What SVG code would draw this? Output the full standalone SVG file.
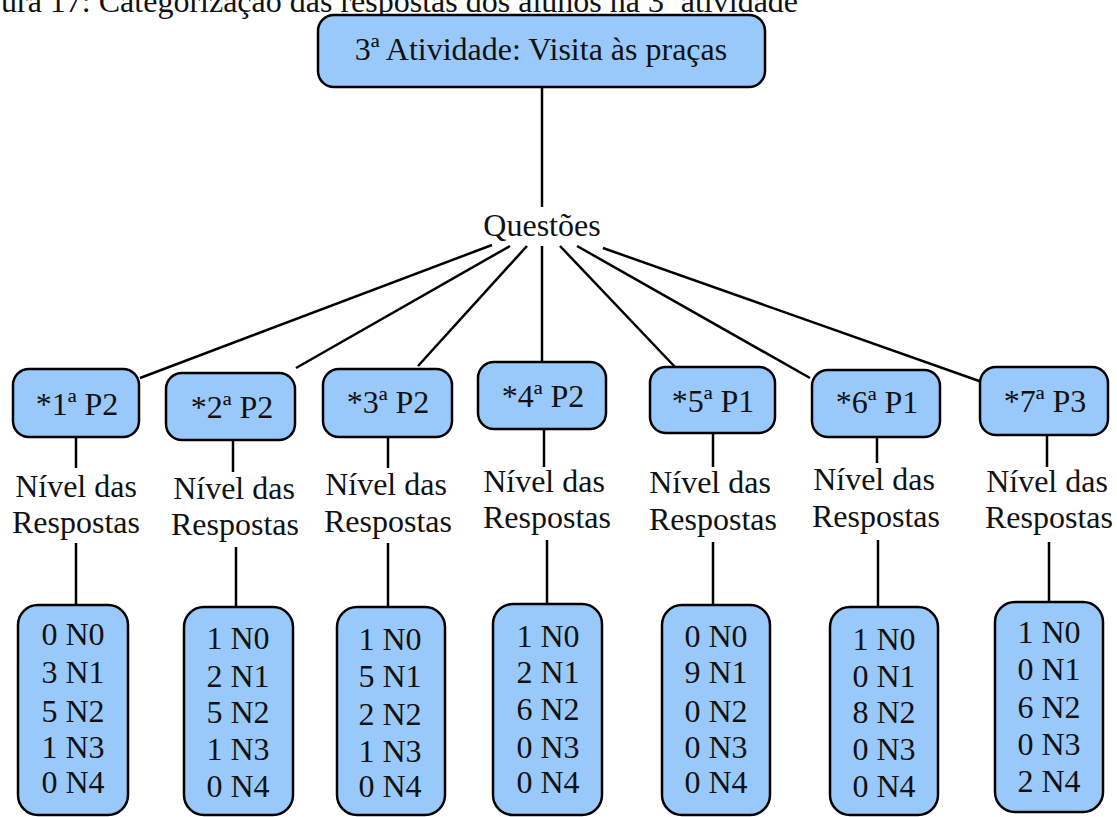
<svg xmlns="http://www.w3.org/2000/svg" width="1117" height="817" viewBox="0 0 1117 817">
  <style>
    .box { fill: #99c9fa; stroke: #000; stroke-width: 2.5; }
    .t { font-family: "Liberation Serif", "Times New Roman", serif; font-size: 32px; fill: #111; text-anchor: middle; }
    .cap { font-family: "Liberation Serif", "Times New Roman", serif; font-size: 32px; fill: #111; }
    .ln { stroke: #000; stroke-width: 2.5; fill: none; }
  </style>
  <rect width="1117" height="817" fill="#fff"/>

  <text class="cap" x="1" y="12">ura 17: Categorização das respostas dos alunos na 3ª atividade</text>

  <g id="connectors">
    <line class="ln" x1="542" y1="87" x2="542" y2="207"/>
    <line class="ln" x1="492" y1="245" x2="140" y2="378"/>
    <line class="ln" x1="510" y1="246" x2="296" y2="368"/>
    <line class="ln" x1="527" y1="246" x2="418" y2="366"/>
    <line class="ln" x1="542" y1="246" x2="542" y2="362"/>
    <line class="ln" x1="560" y1="246" x2="675" y2="367"/>
    <line class="ln" x1="577" y1="246" x2="810" y2="378"/>
    <line class="ln" x1="603" y1="248" x2="982" y2="382"/>
    <!-- question box to level label, label to counts box -->
    <line class="ln" x1="76" y1="437" x2="76" y2="468"/>
    <line class="ln" x1="76" y1="543" x2="76" y2="605"/>
    <line class="ln" x1="233" y1="440" x2="233" y2="472"/>
    <line class="ln" x1="236" y1="547" x2="236" y2="607"/>
    <line class="ln" x1="388" y1="437" x2="388" y2="468"/>
    <line class="ln" x1="388" y1="543" x2="388" y2="607"/>
    <line class="ln" x1="544" y1="429" x2="544" y2="467"/>
    <line class="ln" x1="547" y1="540" x2="547" y2="604"/>
    <line class="ln" x1="713" y1="433" x2="713" y2="467"/>
    <line class="ln" x1="713" y1="542" x2="713" y2="605"/>
    <line class="ln" x1="877" y1="437" x2="877" y2="463"/>
    <line class="ln" x1="878" y1="540" x2="878" y2="607"/>
    <line class="ln" x1="1047" y1="435" x2="1047" y2="467"/>
    <line class="ln" x1="1049" y1="542" x2="1049" y2="602"/>
  </g>

  <g id="activity">
    <rect class="box" x="318" y="15" width="447" height="72" rx="16"/>
    <text class="t" x="541" y="60">3ª Atividade: Visita às praças</text>
  </g>

  <g id="questoes">
    <text class="t" x="542" y="236">Questões</text>
  </g>

  <g id="q1">
    <rect class="box" x="13" y="369" width="126" height="68" rx="16"/>
    <text class="t" x="77" y="415">*1ª P2</text>
    <text class="t" x="76" y="497">Nível das</text>
    <text class="t" x="76" y="533">Respostas</text>
    <rect class="box" x="18" y="605" width="110" height="210" rx="20"/>
    <text class="t" x="73" y="645">0 N0</text>
    <text class="t" x="73" y="683">3 N1</text>
    <text class="t" x="73" y="722">5 N2</text>
    <text class="t" x="73" y="758">1 N3</text>
    <text class="t" x="73" y="793">0 N4</text>
  </g>

  <g id="q2">
    <rect class="box" x="166" y="373" width="129" height="67" rx="16"/>
    <text class="t" x="232" y="418">*2ª P2</text>
    <text class="t" x="234" y="499">Nível das</text>
    <text class="t" x="235" y="535">Respostas</text>
    <rect class="box" x="184" y="607" width="109" height="208" rx="20"/>
    <text class="t" x="238" y="649">1 N0</text>
    <text class="t" x="238" y="687">2 N1</text>
    <text class="t" x="238" y="723">5 N2</text>
    <text class="t" x="238" y="760">1 N3</text>
    <text class="t" x="238" y="797">0 N4</text>
  </g>

  <g id="q3">
    <rect class="box" x="323" y="369" width="129" height="68" rx="16"/>
    <text class="t" x="388" y="413">*3ª P2</text>
    <text class="t" x="386" y="495">Nível das</text>
    <text class="t" x="388" y="532">Respostas</text>
    <rect class="box" x="337" y="607" width="108" height="208" rx="20"/>
    <text class="t" x="390" y="650">1 N0</text>
    <text class="t" x="390" y="687">5 N1</text>
    <text class="t" x="390" y="725">2 N2</text>
    <text class="t" x="390" y="762">1 N3</text>
    <text class="t" x="390" y="797">0 N4</text>
  </g>

  <g id="q4">
    <rect class="box" x="478" y="362" width="128" height="67" rx="16"/>
    <text class="t" x="543" y="407">*4ª P2</text>
    <text class="t" x="544" y="492">Nível das</text>
    <text class="t" x="547" y="528">Respostas</text>
    <rect class="box" x="493" y="604" width="109" height="211" rx="20"/>
    <text class="t" x="548" y="647">1 N0</text>
    <text class="t" x="548" y="683">2 N1</text>
    <text class="t" x="548" y="720">6 N2</text>
    <text class="t" x="548" y="758">0 N3</text>
    <text class="t" x="548" y="793">0 N4</text>
  </g>

  <g id="q5">
    <rect class="box" x="650" y="367" width="125" height="66" rx="16"/>
    <text class="t" x="713" y="412">*5ª P1</text>
    <text class="t" x="710" y="493">Nível das</text>
    <text class="t" x="713" y="530">Respostas</text>
    <rect class="box" x="662" y="605" width="108" height="210" rx="20"/>
    <text class="t" x="716" y="647">0 N0</text>
    <text class="t" x="716" y="683">9 N1</text>
    <text class="t" x="716" y="722">0 N2</text>
    <text class="t" x="716" y="758">0 N3</text>
    <text class="t" x="716" y="793">0 N4</text>
  </g>

  <g id="q6">
    <rect class="box" x="812" y="370" width="128" height="67" rx="16"/>
    <text class="t" x="877" y="413">*6ª P1</text>
    <text class="t" x="874" y="490">Nível das</text>
    <text class="t" x="876" y="527">Respostas</text>
    <rect class="box" x="830" y="607" width="108" height="208" rx="20"/>
    <text class="t" x="884" y="650">1 N0</text>
    <text class="t" x="884" y="687">0 N1</text>
    <text class="t" x="884" y="723">8 N2</text>
    <text class="t" x="884" y="760">0 N3</text>
    <text class="t" x="884" y="797">0 N4</text>
  </g>

  <g id="q7">
    <rect class="box" x="980" y="367" width="128" height="68" rx="16"/>
    <text class="t" x="1045" y="412">*7ª P3</text>
    <text class="t" x="1047" y="492">Nível das</text>
    <text class="t" x="1049" y="528">Respostas</text>
    <rect class="box" x="995" y="602" width="108" height="210" rx="20"/>
    <text class="t" x="1049" y="643">1 N0</text>
    <text class="t" x="1049" y="680">0 N1</text>
    <text class="t" x="1049" y="718">6 N2</text>
    <text class="t" x="1049" y="755">0 N3</text>
    <text class="t" x="1049" y="792">2 N4</text>
  </g>
</svg>
